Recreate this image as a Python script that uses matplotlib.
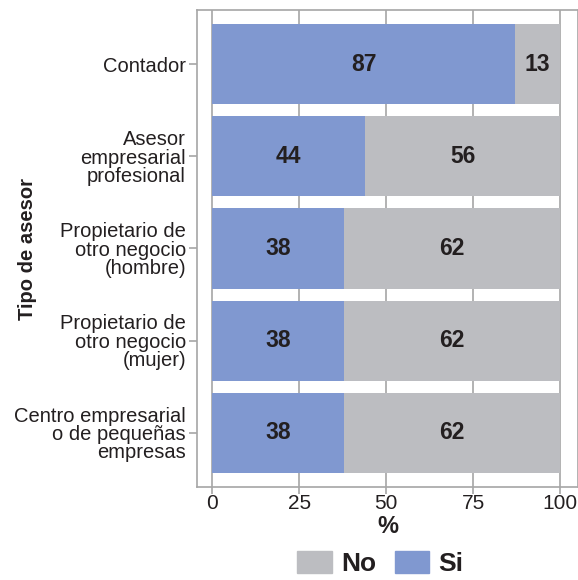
import matplotlib

matplotlib.use("Agg")

import matplotlib.pyplot as plt
from matplotlib.patches import Patch

plt.rcParams["font.family"] = ["Liberation Sans", "DejaVu Sans"]

categories = [
    "Contador",
    "Asesor\nempresarial\nprofesional",
    "Propietario de\notro negocio\n(hombre)",
    "Propietario de\notro negocio\n(mujer)",
    "Centro empresarial\no de pequeñas\nempresas",
]
si_values = [87, 44, 38, 38, 38]
no_values = [13, 56, 62, 62, 62]
x_ticks = [0, 25, 50, 75, 100]

COLOR_SI = "#8098d0"
COLOR_NO = "#bcbdc1"
FRAME = "#a6a6a6"
TEXT = "#231f20"

fig = plt.figure(figsize=(5.78, 5.8), dpi=100)
ax = fig.add_axes([197 / 578, 1 - 487 / 580, 381 / 578, 477 / 580])

ypos = list(range(len(categories)))
ax.barh(ypos, si_values, height=0.87, color=COLOR_SI, zorder=2)
ax.barh(ypos, no_values, left=si_values, height=0.87, color=COLOR_NO, zorder=2)

for y, s, n in zip(ypos, si_values, no_values):
    ax.text(s / 2, y, str(s), ha="center", va="center", fontsize=16.5,
            fontweight="bold", color=TEXT, zorder=3)
    ax.text(s + n / 2, y, str(n), ha="center", va="center", fontsize=16.5,
            fontweight="bold", color=TEXT, zorder=3)

ax.set_xlim(-4.4, 105.2)
ax.set_ylim(4.59, -0.59)
ax.set_xticks(x_ticks)
ax.set_yticks(ypos)
ax.set_yticklabels(categories, fontsize=14.5, color=TEXT, linespacing=0.95)
ax.tick_params(axis="x", labelsize=15, colors=FRAME, labelcolor=TEXT,
               length=5, width=1.2, pad=0)
ax.tick_params(axis="y", colors=FRAME, labelcolor=TEXT, length=6, width=1.2, pad=2)
ax.grid(axis="x", color=FRAME, linewidth=1.2, zorder=0)
ax.set_axisbelow(True)
for spine in ax.spines.values():
    spine.set_color(FRAME)
    spine.set_linewidth(1.2)

ax.set_xlabel("%", fontsize=17, fontweight="bold", color=TEXT)
ax.xaxis.set_label_coords(0.5, -0.058)
ax.set_ylabel("Tipo de asesor", fontsize=14.5, fontweight="bold", color=TEXT)
ax.yaxis.set_label_coords(-0.42, 0.5)

handles = [Patch(color=COLOR_NO, label="No"), Patch(color=COLOR_SI, label="Si")]
fig.legend(handles=handles, loc="lower center", bbox_to_anchor=(0.658, -0.034),
           ncol=2, frameon=False, prop={"size": 19, "weight": "bold"},
           handlelength=1.3, handleheight=0.95, handletextpad=0.35,
           columnspacing=0.7, labelcolor=TEXT)

fig.savefig("out.png", dpi=100)
